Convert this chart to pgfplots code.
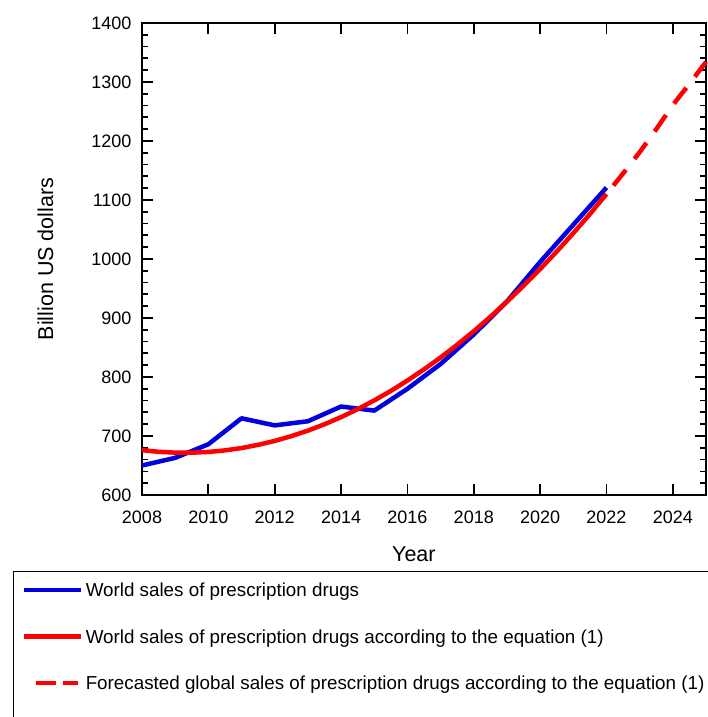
\documentclass[border=0pt]{standalone}
\usepackage{pgfplots}
\pgfplotsset{compat=1.18}
\usepackage{fontspec}
\setmainfont{Liberation Sans}
\definecolor{myblue}{RGB}{0,0,225}
\definecolor{myred}{RGB}{255,0,0}
\pgfplotsset{
  solidlegend/.style={legend image code/.code={\draw[##1] (0pt,12pt) -- (57pt,12pt);}},
  dashlegend/.style={legend image code/.code={\draw[##1, dash pattern=on 20pt off 7pt, dash phase=0pt] (12pt,12pt) -- (54pt,12pt);}},
}
\pgfplotstableread{
year sales
2008 650
2009 663
2010 686
2011 730
2012 718
2013 725
2014 750
2015 743
2016 780
2017 822
2018 872
2019 928
2020 995
2021 1058
2022 1121
}\actual
\pgfplotstableread{
year fit
2008.0 676.0
2008.5 673.2
2009.0 671.8
2009.5 671.7
2010.0 673.0
2010.5 675.6
2011.0 679.6
2011.5 685.0
2012.0 691.7
2012.5 699.7
2013.0 709.1
2013.5 719.9
2014.0 732.0
2014.5 745.5
2015.0 760.3
2015.5 776.4
2016.0 794.0
2016.5 812.9
2017.0 833.1
2017.5 854.7
2018.0 877.6
2018.5 902.0
2019.0 927.6
2019.5 954.6
2020.0 982.9
2020.5 1012.6
2021.0 1043.8
2021.5 1076.1
2022.0 1110.0
}\fitted
\pgfplotstableread{
year fit
2022.0 1110.0
2022.5 1145.0
2023.0 1181.0
2023.5 1220.0
2024.0 1261.0
2024.5 1297.0
2025.0 1334.0
}\forecast
\begin{document}
\begin{tikzpicture}
\begin{axis}[
  at={(142pt,222pt)}, anchor=south west,
  scale only axis, width=564pt, height=472pt,
  xmin=2008, xmax=2025, ymin=600, ymax=1400,
  xtick={2008,2010,...,2024}, ytick={600,700,...,1400},
  minor y tick num=4,
  tick align=inside,
  major tick length=11pt, minor tick length=6pt,
  every tick/.style={black, line width=1.8pt},
  axis line style={line width=2pt},
  /pgf/number format/1000 sep={},
  /pgf/number format/assume math mode=true,
  tick label style={font=\fontsize{18}{20}\selectfont},
  yticklabel style={xshift=-7pt},
  xticklabel style={yshift=-12pt},
  xlabel={Year}, ylabel={Billion US dollars},
  label style={font=\fontsize{21.5}{24}\selectfont},
  xlabel style={at={(axis description cs:0.482,-0.125)}, anchor=center},
  ylabel style={at={(axis description cs:-0.171,0.5)}, anchor=center},
  clip=false,
  legend cell align=left,
  legend style={at={(axis description cs:-0.2296,-0.1609)}, anchor=north west,
    draw=black, line width=1.5pt, font=\fontsize{18.8}{21}\selectfont,
    inner xsep=8pt, inner ysep=12pt,
    nodes={inner sep=0pt, text height=13pt, text depth=24pt},
    row sep=9.5pt, column sep=3pt},
  solidlegend,
]
\addplot[myblue, line width=4.5pt, line join=round] table[x=year,y=sales] {\actual};
\addlegendentry{World sales of prescription drugs}
\addplot[myred, line width=4.5pt, line join=round] table[x=year,y=fit] {\fitted};
\addlegendentry{World sales of prescription drugs according to the equation (1)}
\addplot[myred, line width=4.5pt, dash pattern=on 20pt off 14pt, dash phase=23pt, dashlegend]
  table[x=year,y=fit] {\forecast};
\addlegendentry{Forecasted global sales of prescription drugs according to the equation (1)}
\end{axis}
\pgfresetboundingbox
\useasboundingbox (0pt,0pt) rectangle (707pt,717pt);
\end{tikzpicture}
\end{document}
